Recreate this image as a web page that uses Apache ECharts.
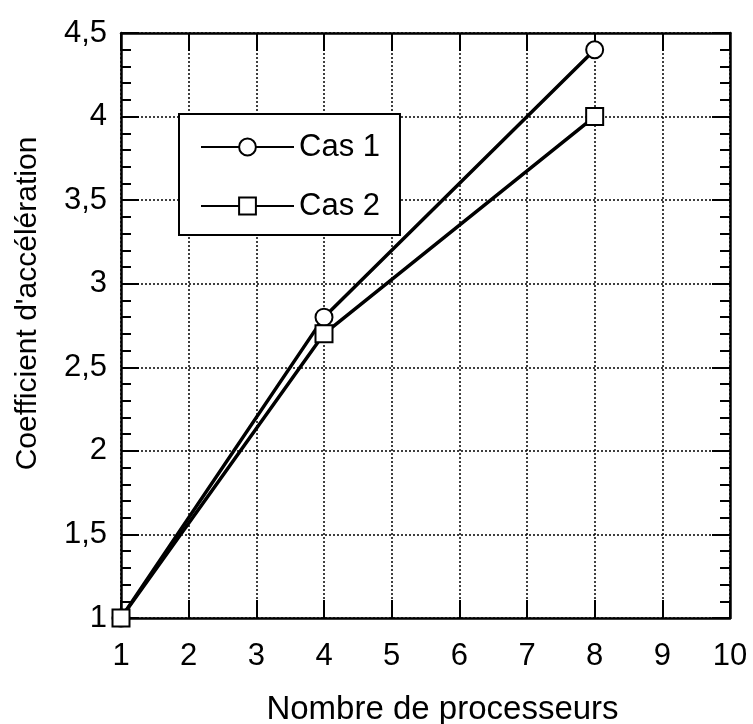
<!DOCTYPE html>
<html>
<head>
<meta charset="utf-8">
<script src="https://cdn.jsdelivr.net/npm/echarts@6/dist/echarts.min.js"></script>
<style>html,body{margin:0;padding:0;background:#fff}#c{width:753px;height:724px}</style>
</head>
<body>
<div id="c"></div>
<script>
var processeurs = [1, 4, 8];
var cas1 = [1, 2.8, 4.4];
var cas2 = [1, 2.7, 4.0];
var seriesNames = ['Cas 1', 'Cas 2'];
var xTitle = 'Nombre de processeurs';
var yTitle = "Coefficient d'accélération";

function pairs(xs, ys) { return xs.map(function (x, i) { return [x, ys[i]]; }); }

var FONT = '"Liberation Sans", Arial, Helvetica, sans-serif';
var axisLine = { show: true, onZero: false, lineStyle: { color: '#000', width: 2.5 } };
var tick = { show: true, inside: true, length: 18, lineStyle: { color: '#000', width: 2 } };
var minor = { show: true, splitNumber: 5, length: 10, lineStyle: { color: '#000', width: 2 } };
var split = { show: true, lineStyle: { color: '#000', width: 1.5, type: [2, 2] } };

var chart = echarts.init(document.getElementById('c'), null, { renderer: 'canvas' });
chart.setOption({
  animation: false,
  backgroundColor: '#fff',
  textStyle: { fontFamily: FONT },
  grid: { left: 121, right: 23, top: 33, bottom: 106, containLabel: false, outerBoundsMode: 'none' },
  legend: {
    left: 179, top: 114,
    orient: 'vertical',
    backgroundColor: '#fff',
    borderColor: '#000', borderWidth: 2, borderRadius: 0,
    padding: [16, 20, 12, 21],
    itemWidth: 93, itemHeight: 21, itemGap: 25,
    textStyle: { fontSize: 31, color: '#000', fontFamily: FONT, lineHeight: 34 },
    data: seriesNames
  },
  xAxis: [{
    type: 'value', min: 1, max: 10, interval: 1, position: 'bottom',
    name: xTitle, nameLocation: 'middle', nameGap: 75,
    nameTextStyle: { fontSize: 33, color: '#000', fontFamily: FONT, padding: [0, 0, 0, 34] },
    axisLine: axisLine, axisTick: tick,
    axisLabel: { fontSize: 31, color: '#000', margin: 23, fontFamily: FONT },
    splitLine: split
  }, {
    type: 'value', min: 1, max: 10, interval: 1, position: 'top',
    axisLine: axisLine, axisTick: tick, axisLabel: { show: false }, splitLine: { show: false }
  }],
  yAxis: [{
    type: 'value', min: 1, max: 4.5, interval: 0.5, position: 'left',
    name: yTitle, nameLocation: 'middle', nameGap: 78, nameRotate: 90,
    nameTextStyle: { fontSize: 30, color: '#000', fontFamily: FONT, padding: [0, 0, 0, 44] },
    axisLine: axisLine, axisTick: tick, minorTick: minor,
    axisLabel: { fontSize: 31, color: '#000', margin: 14, fontFamily: FONT,
      formatter: function (v) { return String(v).replace('.', ','); } },
    splitLine: split
  }, {
    type: 'value', min: 1, max: 4.5, interval: 0.5, position: 'right',
    axisLine: axisLine, axisTick: tick, minorTick: minor,
    axisLabel: { show: false }, splitLine: { show: false }
  }],
  series: [{
    name: seriesNames[0], type: 'line', data: pairs(processeurs, cas1),
    symbol: 'emptyCircle', symbolSize: 17,
    lineStyle: { color: '#000', width: 3.5 },
    itemStyle: { color: '#000', borderWidth: 2.5 }, z: 3
  }, {
    name: seriesNames[1], type: 'line', data: pairs(processeurs, cas2),
    symbol: 'emptyRect', symbolSize: 17,
    lineStyle: { color: '#000', width: 3.5 },
    itemStyle: { color: '#000', borderWidth: 2.5 }, z: 3
  }]
});
</script>
</body>
</html>
